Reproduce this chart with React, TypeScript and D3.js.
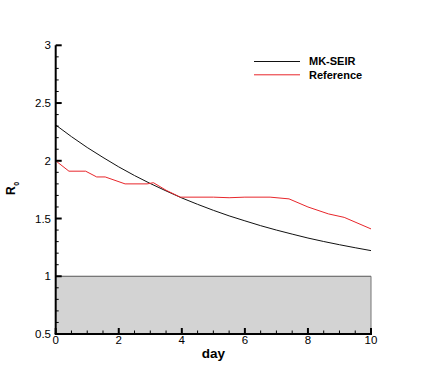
import React from "react";
import * as d3 from "d3";

const days = [0, 0.5, 1, 1.5, 2, 2.5, 3, 3.5, 4, 4.5, 5, 5.5, 6, 6.5, 7, 7.5, 8, 8.5, 9, 9.5, 10];
const mkSeir = [2.31, 2.209, 2.115, 2.029, 1.947, 1.872, 1.803, 1.739, 1.678, 1.623, 1.571, 1.523, 1.48, 1.438, 1.4, 1.365, 1.331, 1.301, 1.273, 1.247, 1.222];

const refDays = [0, 0.42, 0.95, 1.3, 1.57, 2.2, 2.9, 3.1, 3.5, 3.95, 5.0, 5.5, 6.0, 6.8, 7.4, 8.0, 8.65, 9.15, 10];
const refValues = [2.0, 1.91, 1.91, 1.86, 1.86, 1.8, 1.8, 1.81, 1.745, 1.685, 1.685, 1.68, 1.685, 1.685, 1.67, 1.6, 1.54, 1.51, 1.41];

const xMajor = [0, 2, 4, 6, 8, 10];
const yMajor = [0.5, 1, 1.5, 2, 2.5, 3];
const legendLabels = ["MK-SEIR", "Reference"];
const shadeRange = [0.5, 1];

export default function App() {
  const x = d3.scaleLinear().domain([0, 10]).range([55.7, 371]);
  const y = d3.scaleLinear().domain([0.5, 3]).range([334, 45.3]);
  const line = d3
    .line<[number, number]>()
    .x((d) => x(d[0]))
    .y((d) => y(d[1]));
  const blackPath = line(days.map((d, i) => [d, mkSeir[i]]) as [number, number][]) || "";
  const redPath = line(refDays.map((d, i) => [d, refValues[i]]) as [number, number][]) || "";

  const xMinor = d3.range(0, 10.001, 0.5).filter((v) => !xMajor.includes(v));
  const yMinor = d3
    .range(5, 31, 1)
    .map((v) => v / 10)
    .filter((v) => !yMajor.some((m) => Math.abs(m - v) < 1e-6));

  const font = "'Liberation Sans', Arial, Helvetica, sans-serif";
  const x0 = x(0);
  const y0 = y(0.5);

  return (
    <svg
      width={422}
      height={376}
      style={{ position: "absolute", left: 0, top: 0, background: "#fff" }}
      fontFamily={font}
    >
      {/* shaded region */}
      <rect
        x={x(0)}
        y={y(shadeRange[1])}
        width={x(10) - x(0)}
        height={y(shadeRange[0]) - y(shadeRange[1])}
        fill="#d3d3d3"
      />
      <line x1={x(0)} x2={x(10)} y1={y(shadeRange[1])} y2={y(shadeRange[1])} stroke="#555" strokeWidth={1} />
      <line x1={x(10)} x2={x(10)} y1={y(shadeRange[1])} y2={y(shadeRange[0])} stroke="#777" strokeWidth={1} />

      {/* curves */}
      <path d={blackPath} fill="none" stroke="#111" strokeWidth={1} />
      <path d={redPath} fill="none" stroke="#e8262b" strokeWidth={1} />

      {/* axes */}
      <line x1={x0} x2={x0} y1={y(3)} y2={y0} stroke="#000" strokeWidth={2} />
      <line x1={x0 - 1} x2={x(10) + 1} y1={y0} y2={y0} stroke="#000" strokeWidth={2} />

      {/* y ticks */}
      {yMajor.map((v) => (
        <g key={"ym" + v}>
          <line x1={x0} x2={x0 + 6} y1={y(v)} y2={y(v)} stroke="#000" strokeWidth={2} />
          <text x={51} y={y(v)} dy="0.35em" textAnchor="end" fontSize={11.5} fill="#000">
            {v}
          </text>
        </g>
      ))}
      {yMinor.map((v) => (
        <line key={"yn" + v} x1={x0} x2={x0 + 3} y1={y(v)} y2={y(v)} stroke="#000" strokeWidth={1} />
      ))}

      {/* x ticks */}
      {xMajor.map((v) => (
        <g key={"xm" + v}>
          <line x1={x(v)} x2={x(v)} y1={y0} y2={y0 - 6} stroke="#000" strokeWidth={2} />
          <text x={x(v)} y={343.5} textAnchor="middle" fontSize={11.5} fill="#000">
            {v}
          </text>
        </g>
      ))}
      {xMinor.map((v) => (
        <line key={"xn" + v} x1={x(v)} x2={x(v)} y1={y0} y2={y0 - 3.5} stroke="#000" strokeWidth={1} />
      ))}

      {/* axis titles */}
      <text x={213.3} y={358} textAnchor="middle" fontSize={13.5} fontWeight="bold" fill="#000">
        day
      </text>
      <g transform="translate(15,195) rotate(-90)">
        <text x={0} y={0} textAnchor="start" fontSize={12} fontWeight="bold" fill="#000">
          R
          <tspan fontSize={7} dx={0.5} dy={4}>
            0
          </tspan>
        </text>
      </g>

      {/* legend */}
      {legendLabels.map((lab, i) => (
        <g key={lab}>
          <line
            x1={254}
            x2={300}
            y1={61.5 + i * 13.3}
            y2={61.5 + i * 13.3}
            stroke={i === 0 ? "#111" : "#e8262b"}
            strokeWidth={1}
          />
          <text x={309} y={61.5 + i * 13.3} dy="0.35em" fontSize={11} fontWeight="bold" fill="#000">
            {lab}
          </text>
        </g>
      ))}
    </svg>
  );
}
